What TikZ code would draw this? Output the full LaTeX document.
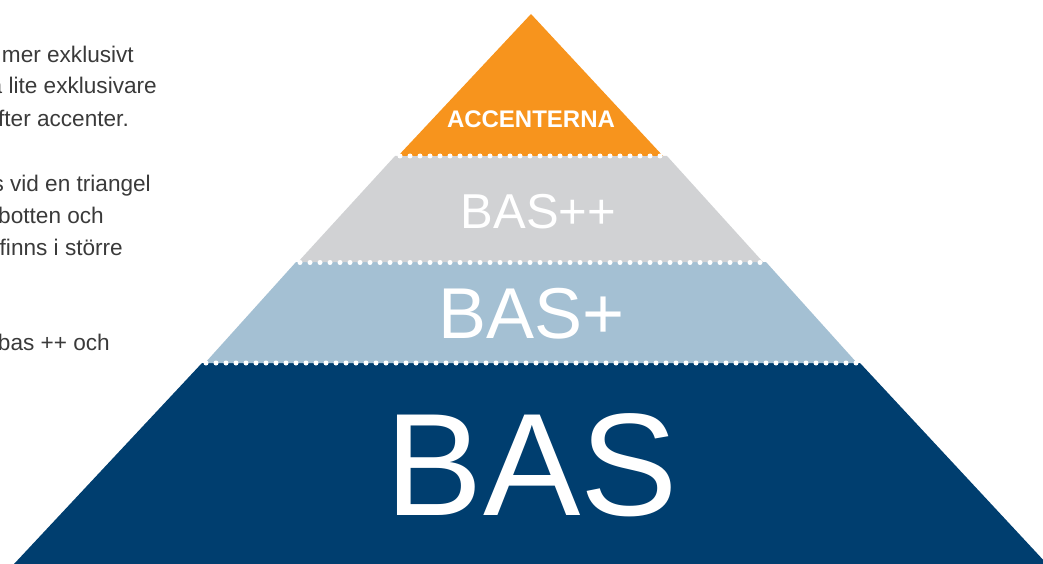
\documentclass[tikz,border=0pt]{standalone}
\usepackage{fontspec}
\setmainfont{Liberation Sans}
\definecolor{accorange}{HTML}{F7941D}
\definecolor{tiergray}{HTML}{D1D2D4}
\definecolor{tierblue}{HTML}{A4C0D3}
\definecolor{tiernavy}{HTML}{003E6F}
\definecolor{bodygray}{HTML}{3A3A3A}
\begin{document}
\begin{tikzpicture}[x=1pt,y=-1pt,
  sepline/.style={white, line width=5pt, line cap=round, dash pattern=on 0pt off 10pt},
  bodytext/.style={anchor=base east, inner sep=0pt, text=bodygray, font=\fontsize{22.6}{27}\selectfont},
  tierlabel/.style={anchor=base, inner sep=0pt, text=white}]
\useasboundingbox (0,0) rectangle (1043,564);
\clip (0,0) rectangle (1043,564);
% tiers
\fill[tiernavy] (202,363) -- (860,363) -- (1047,564) -- (14,564) -- cycle;
\fill[tierblue] (296,262) -- (766,262) -- (857,363) -- (205,363) -- cycle;
\fill[tiergray] (395,156) -- (667,156) -- (763,262) -- (298,262) -- cycle;
\fill[accorange] (531,14) -- (663,156) -- (398,156) -- cycle;
% dotted separators
\draw[sepline] (400,156) -- (662,156);
\draw[sepline] (300,262.5) -- (764,262.5);
\draw[sepline] (206,363) -- (858,363);
% labels
\node[tierlabel, font=\bfseries\fontsize{24}{28}\selectfont] (acc) at (531,128) {ACCENTERNA};
\node[tierlabel, font=\fontsize{49}{58}\selectfont] (baspp) at (538.5,228) {BAS++};
\node[tierlabel, font=\fontsize{72}{86}\selectfont] (basp) at (531.5,338) {BAS+};
\node[tierlabel, font=\fontsize{146}{170}\selectfont] (bas) at (532,515) {BAS};
% left text (cut at the left edge)
\node[bodytext] (t1) at (134,63) {mer exklusivt};
\node[bodytext] (t2) at (157,94) {a lite exklusivare};
\node[bodytext] (t3) at (129,127) {fter accenter.};
\node[bodytext] (t4) at (151,191) {s vid en triangel};
\node[bodytext] (t5) at (104,223) {botten och};
\node[bodytext] (t6) at (123,255) {finns i större};
\node[bodytext] (t7) at (110,350) {bas ++ och};
\end{tikzpicture}
\end{document}
